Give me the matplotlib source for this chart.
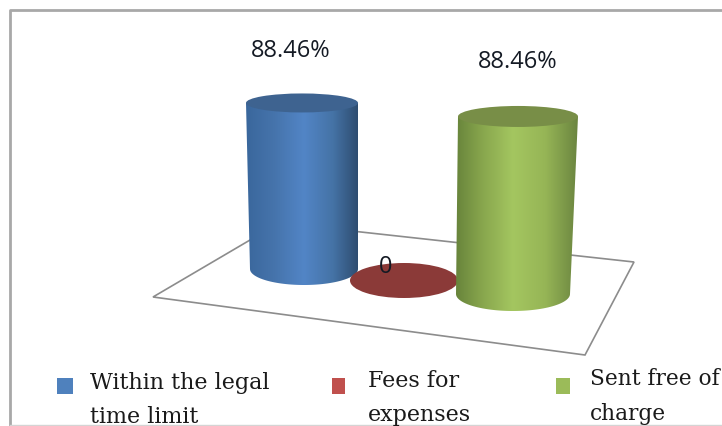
import numpy as np
import matplotlib
matplotlib.use("Agg")
import matplotlib.pyplot as plt
from matplotlib.colors import LinearSegmentedColormap
from matplotlib.patches import Ellipse, Polygon, Rectangle

# Data
categories = ["Within the legal\ntime limit", "Fees for\nexpenses", "Sent free of\ncharge"]
values = [88.46, 0, 88.46]
value_labels = ["88.46%", "0", "88.46%"]

# Colours
legend_colors = ["#4f81bd", "#c0504d", "#9bbb59"]
top_colors = ["#3e6390", "#8b3a38", "#788e47"]
side_colors = [
    ["#3a679c", "#4674ac", "#5285c6", "#4573a6", "#2b4768"],
    ["#8b3a38", "#8b3a38", "#8b3a38", "#8b3a38", "#8b3a38"],
    ["#5e7a36", "#86a44c", "#a4c660", "#96b556", "#6b8540"],
]

# Layout in image pixels: base centre x, base centre y, base half width,
# top half width, base half height, top half height, top x shift, px per percent
cylinders = [
    (304, 270, 54, 56, 16, 9.5, -2, 1.877),
    (404, 281.5, 54, 54, 17.5, 17.5, 0, 1.9),
    (513, 295, 57, 60, 17, 10.5, 5, 2.007),
]
label_pos = [(291, 51), (386, 267), (518, 62)]
legend_boxes = [(57, 379, 16, 16), (332, 379, 13, 16), (556, 379, 14, 16)]
legend_text = [(90, 372, 16, 1.7), (368, 370, 16, 1.7), (590, 368, 15.6, 1.75)]
floor = [(153, 298), (585, 356), (634, 263), (279, 224)]

fig = plt.figure(figsize=(7.22, 4.27), dpi=100)
ax = fig.add_axes([0, 0, 1, 1])
ax.set_xlim(0, 722)
ax.set_ylim(427, 0)
ax.axis("off")

# Outer frame, runs off the right side of the picture
ax.plot([730, 10, 10], [11, 11, 430], color="#a8a8a8", lw=2)
ax.plot([10, 722], [426, 426], color="#d4d4d4", lw=1)

# Floor of the 3D chart
ax.add_patch(Polygon(floor, closed=True, fc="white", ec="#8c8c8c", lw=1.2, zorder=1))


def draw_cylinder(i):
    cx, base_y, rx, rx_top, ry, ry_top, shift, scale = cylinders[i]
    height = values[i] * scale
    top_y = base_y - height
    if height == 0:
        ax.add_patch(Ellipse((cx, base_y), 2 * rx, 2 * ry, fc=top_colors[i], ec="none", zorder=3))
        return
    # side outline: straight edges plus the front half of the base ellipse
    t = np.linspace(np.pi, 0, 60)
    arc_x = cx + rx * np.cos(t)
    arc_y = base_y + ry * np.sin(t)
    xs = np.r_[cx + shift - rx_top, arc_x, cx + shift + rx_top]
    ys = np.r_[top_y, arc_y, top_y]
    cmap = LinearSegmentedColormap.from_list("side", side_colors[i])
    left = cx - max(rx, rx_top) - abs(shift)
    right = cx + max(rx, rx_top) + abs(shift)
    img = ax.imshow(np.linspace(0, 1, 256).reshape(1, -1), cmap=cmap, aspect="auto",
                    extent=[left, right, base_y + ry, top_y], zorder=3, interpolation="bilinear")
    clip = Polygon(np.c_[xs, ys], closed=True, transform=ax.transData)
    img.set_clip_path(clip)
    ax.add_patch(Ellipse((cx + shift, top_y), 2 * rx_top, 2 * ry_top, fc=top_colors[i], ec="none", zorder=4))


for i in range(len(values)):
    draw_cylinder(i)

ax.set_xlim(0, 722)
ax.set_ylim(427, 0)

# Value labels
for (x, y), lab in zip(label_pos, value_labels):
    ax.text(x, y, lab, family="Open Sans", fontsize=17, color="#141a24", ha="center", va="center", zorder=5)

# Legend
for box, color in zip(legend_boxes, legend_colors):
    ax.add_patch(Rectangle(box[:2], box[2], box[3], fc=color, ec="none", zorder=5))
for (x, y, size, spacing), name in zip(legend_text, categories):
    ax.text(x, y, name, family="DejaVu Serif", fontsize=size, color="#1a1a1a", ha="left", va="top",
            linespacing=spacing, zorder=5, clip_on=True)

fig.savefig("out.png", dpi=100)
